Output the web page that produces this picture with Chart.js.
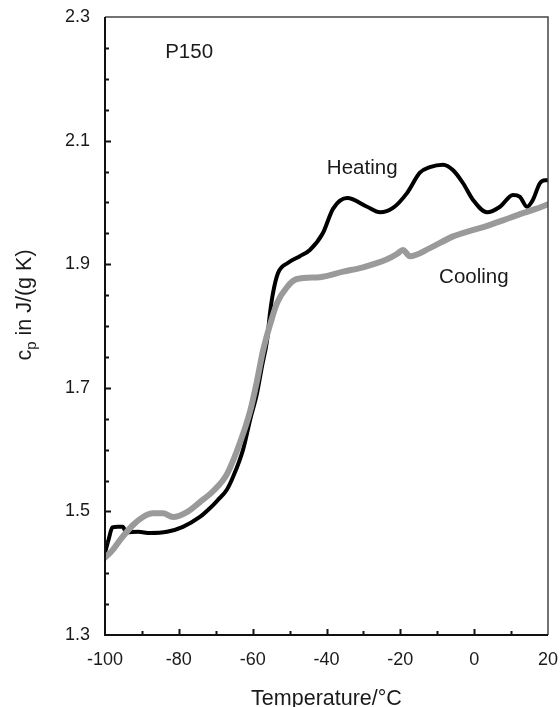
<!DOCTYPE html>
<html>
<head>
<meta charset="utf-8">
<title>P150 heat capacity</title>
<script src="https://cdn.jsdelivr.net/npm/chart.js@4.4.1/dist/chart.umd.min.js"></script>
<style>
  html, body { margin: 0; padding: 0; background: #fff; }
  #wrap { width: 560px; height: 707px; }
</style>
</head>
<body>
<div id="wrap"><canvas id="cp" width="560" height="707"></canvas></div>
<script>
// Axis ranges and tick steps
const X_MIN = -100, X_MAX = 20, X_STEP = 20, X_MINOR = 10;
const Y_MIN = 1.3, Y_MAX = 2.3, Y_STEP = 0.2, Y_MINOR = 0.05;

// Heating run: temperature (°C) and specific heat (J/(g K))
const heatingT = [-100, -99.0, -98.0, -96.5, -95.2, -94.2, -91.0, -87.8, -83.2, -78.9,
  -74.3, -71.6, -69.5, -67.0, -65.3, -62.6, -60.7, -58.8, -57.5, -56.1,
  -55.3, -54.5, -53.1, -50.5, -47.2, -44.5, -41.0, -38.2, -34.4, -29.0,
  -25.5, -22.0, -18.2, -14.7, -12.0, -8.4, -5.7, -3.0, -0.3, 3.5,
  7.0, 10.5, 12.4, 14.3, 15.9, 17.8, 19.2, 20];
const heatingCp = [1.433, 1.455, 1.474, 1.475, 1.475, 1.466, 1.467, 1.465, 1.467, 1.475,
  1.491, 1.505, 1.518, 1.535, 1.556, 1.600, 1.648, 1.692, 1.734, 1.777,
  1.821, 1.853, 1.886, 1.902, 1.913, 1.923, 1.950, 1.990, 2.007, 1.993,
  1.984, 1.991, 2.015, 2.048, 2.057, 2.061, 2.052, 2.031, 2.004, 1.984,
  1.993, 2.012, 2.009, 1.993, 2.004, 2.031, 2.036, 2.036];

// Cooling run
const coolingT = [-100, -98.0, -95.9, -92.4, -89.7, -87.0, -84.3, -81.6, -77.8, -74.3,
  -70.7, -67.0, -63.4, -60.7, -58.8, -57.2, -55.3, -53.4, -50.7, -48.0,
  -41.8, -35.5, -30.1, -23.6, -20.8, -19.3, -17.4, -12.0, -5.7, -1.1,
  3.5, 7.8, 12.4, 16.5, 20];
const coolingCp = [1.425, 1.437, 1.454, 1.478, 1.491, 1.497, 1.497, 1.491, 1.499, 1.515,
  1.533, 1.560, 1.612, 1.662, 1.712, 1.760, 1.802, 1.837, 1.863, 1.876,
  1.879, 1.888, 1.895, 1.908, 1.917, 1.923, 1.913, 1.926, 1.945, 1.954,
  1.962, 1.971, 1.981, 1.989, 1.997];

// Text drawn inside the plot (anchored in data units: left edge, baseline)
const sampleName = { text: 'P150', x: -83.7, y: 2.234 };
const curveLabels = [
  { text: 'Heating', x: -39.9, y: 2.046 },
  { text: 'Cooling', x: -9.5, y: 1.870 }
];
const xTitle = 'Temperature/°C';
const yTitleParts = ['c', 'p', ' in J/(g K)'];

const FONT = '"Liberation Sans", Arial, Helvetica, sans-serif';
const TEXT = '#1a1a1a';

function pts(xs, ys) { return xs.map((v, i) => ({ x: v, y: ys[i] })); }

// Frame, inward tick marks, annotations and axis titles
const decorations = {
  id: 'decorations',
  afterDatasetsDraw(chart) {
    const { ctx, chartArea: a, scales: { x, y } } = chart;
    ctx.save();
    ctx.lineCap = 'butt';

    // top and right edges of the box
    ctx.strokeStyle = '#444';
    ctx.lineWidth = 1.5;
    ctx.beginPath();
    ctx.moveTo(a.left, a.top); ctx.lineTo(a.right, a.top); ctx.lineTo(a.right, a.bottom);
    ctx.stroke();

    // left and bottom axes
    ctx.strokeStyle = '#111';
    ctx.lineWidth = 2;
    ctx.beginPath();
    ctx.moveTo(a.left, a.top); ctx.lineTo(a.left, a.bottom); ctx.lineTo(a.right, a.bottom);
    ctx.stroke();

    // x tick marks (major every 20, minor every 10)
    const nx = Math.round((X_MAX - X_MIN) / X_MINOR);
    ctx.beginPath();
    for (let k = 1; k < nx; k++) {
      const v = X_MIN + k * X_MINOR;
      const px = Math.round(x.getPixelForValue(v)) + 0.5;
      const len = (k % 2 === 0) ? 6 : 4;
      ctx.moveTo(px, a.bottom); ctx.lineTo(px, a.bottom - len);
    }
    // y tick marks (major every 0.2, minor every 0.05)
    const ny = Math.round((Y_MAX - Y_MIN) / Y_MINOR);
    for (let k = 1; k < ny; k++) {
      const v = Y_MIN + k * Y_MINOR;
      const py = Math.round(y.getPixelForValue(v)) + 0.5;
      const len = (k % 4 === 0) ? 6 : 4;
      ctx.moveTo(a.left, py); ctx.lineTo(a.left + len, py);
    }
    ctx.lineWidth = 2;
    ctx.stroke();

    // in-plot labels
    ctx.fillStyle = TEXT;
    ctx.font = '20.5px ' + FONT;
    ctx.textAlign = 'left';
    ctx.textBaseline = 'alphabetic';
    [sampleName, ...curveLabels].forEach(l =>
      ctx.fillText(l.text, x.getPixelForValue(l.x), y.getPixelForValue(l.y)));

    // x axis title
    ctx.font = '21.5px ' + FONT;
    ctx.textAlign = 'center';
    ctx.fillText(xTitle, (a.left + a.right) / 2, 705);

    // y axis title with subscript p
    ctx.translate(31, 305);
    ctx.rotate(-Math.PI / 2);
    ctx.textAlign = 'left';
    const big = '21.5px ' + FONT, small = '15px ' + FONT;
    ctx.font = big; const w0 = ctx.measureText(yTitleParts[0]).width;
    ctx.font = small; const w1 = ctx.measureText(yTitleParts[1]).width;
    ctx.font = big; const w2 = ctx.measureText(yTitleParts[2]).width;
    let cx = -(w0 + w1 + w2) / 2;
    ctx.fillText(yTitleParts[0], cx, 0); cx += w0;
    ctx.font = small; ctx.fillText(yTitleParts[1], cx, 5); cx += w1;
    ctx.font = big; ctx.fillText(yTitleParts[2], cx, 0);
    ctx.restore();
  }
};

// keep the plot box at a fixed place: no extra room for edge tick labels
function noEdgePadding(s) {
  s.paddingLeft = 0; s.paddingRight = 0; s.paddingTop = 0; s.paddingBottom = 0;
}

new Chart(document.getElementById('cp'), {
  type: 'line',
  data: {
    datasets: [
      {
        label: 'Cooling',
        data: pts(coolingT, coolingCp),
        borderColor: '#9a9a9a',
        borderWidth: 6,
        pointRadius: 0,
        cubicInterpolationMode: 'monotone',
        borderJoinStyle: 'round',
        borderCapStyle: 'round',
        fill: false
      },
      {
        label: 'Heating',
        data: pts(heatingT, heatingCp),
        borderColor: '#000',
        borderWidth: 4,
        pointRadius: 0,
        cubicInterpolationMode: 'monotone',
        borderJoinStyle: 'round',
        borderCapStyle: 'round',
        fill: false
      }
    ]
  },
  options: {
    responsive: false,
    devicePixelRatio: 1,
    animation: false,
    layout: { padding: { left: 0, top: 17, right: 12, bottom: 0 } },
    plugins: { legend: { display: false }, tooltip: { enabled: false } },
    scales: {
      x: {
        type: 'linear',
        min: X_MIN, max: X_MAX,
        grid: { display: false, drawTicks: false },
        border: { display: false },
        ticks: {
          stepSize: X_STEP,
          padding: 14,
          color: TEXT,
          font: { family: FONT, size: 18 },
          maxRotation: 0
        },
        afterFit(s) { s.height = 72; noEdgePadding(s); }
      },
      y: {
        type: 'linear',
        min: Y_MIN, max: Y_MAX,
        grid: { display: false, drawTicks: false },
        border: { display: false },
        ticks: {
          stepSize: Y_STEP,
          padding: 15,
          color: TEXT,
          font: { family: FONT, size: 18 },
          callback: v => Number(v).toFixed(1)
        },
        afterFit(s) { s.width = 105; noEdgePadding(s); }
      }
    }
  },
  plugins: [decorations]
});
</script>
</body>
</html>
